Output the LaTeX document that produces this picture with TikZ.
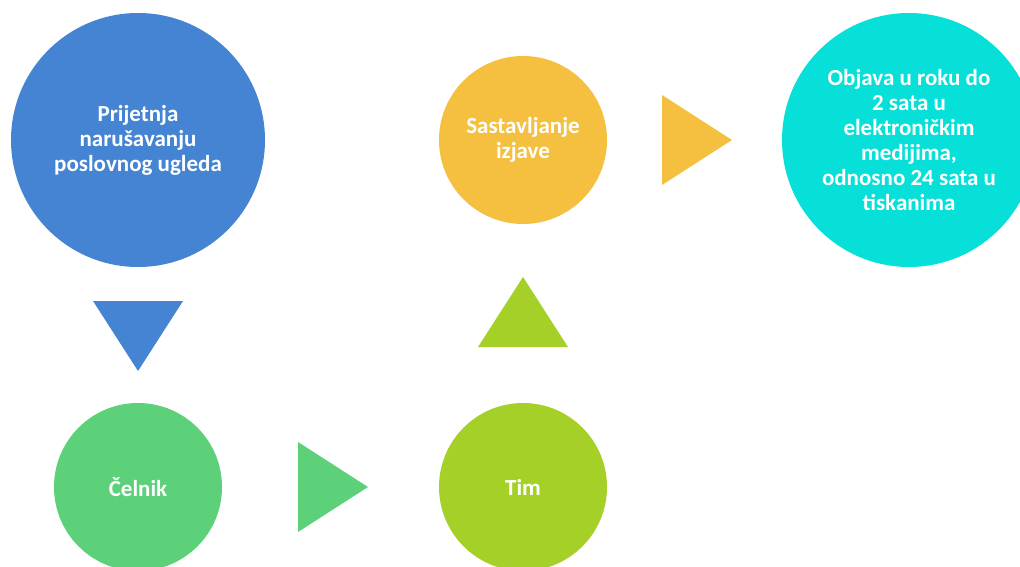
\documentclass[tikz,border=0pt]{standalone}
\usepackage{fontspec}
\setmainfont{Carlito}
\definecolor{BlueColor}{RGB}{69,132,211}
\definecolor{CyanColor}{RGB}{7,224,216}
\definecolor{YellowColor}{RGB}{245,192,64}
\definecolor{GreenColor}{RGB}{93,208,122}
\definecolor{LimeColor}{RGB}{165,208,40}
\usetikzlibrary{shapes.geometric}
\tikzstyle{bigstep} = [circle, minimum size=254, inner sep=0pt, text=white, align=center, font=\bfseries\fontsize{23}{25}\selectfont]
\tikzstyle{smallstep} = [bigstep, minimum size=168]
\tikzstyle{pointer} = [isosceles triangle, isosceles triangle stretches, minimum width=90, minimum height=70, inner sep=0pt, outer sep=0pt, anchor=apex]

\begin{document}
\begin{tikzpicture}[x=1pt, y=-1pt]
      \clip (0,0) rectangle (1020,567);

      % Steps
      \node[bigstep, fill=BlueColor] (threat) at (138,140) {
        Prijetnja\\
        narušavanju\\
        poslovnog ugleda
      };

      \node[smallstep, fill=GreenColor] (chief) at (138,487) {Čelnik};

      \node[smallstep, fill=LimeColor] (team) at (523,487) {Tim};

      \node[smallstep, fill=YellowColor] (statement) at (523,140) {
        Sastavljanje\\
        izjave
      };

      \node[bigstep, fill=CyanColor] (publish) at (909,140) {
        Objava u roku do\\
        2 sata u\\
        elektroničkim\\
        medijima,\\
        odnosno 24 sata u\\
        tiskanima
      };

      % Pointers between steps (placed by their tips)
      \node[pointer, fill=BlueColor, rotate=-90] (p1) at (138,371) {};
      \node[pointer, fill=GreenColor] (p2) at (368,487) {};
      \node[pointer, fill=LimeColor, rotate=90] (p3) at (523,277) {};
      \node[pointer, fill=YellowColor] (p4) at (732,140) {};
    \end{tikzpicture}
\end{document}
